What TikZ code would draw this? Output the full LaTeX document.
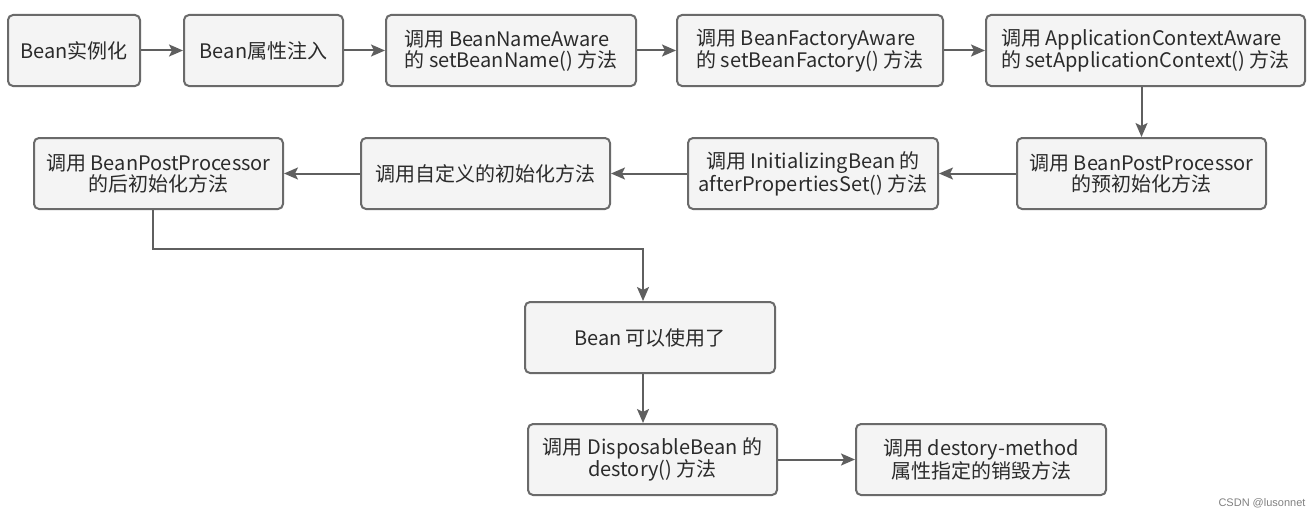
\documentclass[tikz,border=0pt]{standalone}
\usepackage{fontspec}
\setmainfont{Noto Sans CJK SC}
\newfontfamily\markfont{Liberation Sans}
\usetikzlibrary{arrows.meta}
\definecolor{boxline}{HTML}{6A6A6A}
\definecolor{boxfill}{HTML}{F4F4F4}
\definecolor{flowgray}{HTML}{5F5F5F}
\definecolor{textgray}{HTML}{2B2B2B}
\tikzset{
  stepbox/.style={draw=boxline,fill=boxfill,line width=2pt,rounded corners=5pt,
    minimum height=71pt,inner sep=0pt,align=center,text=textgray,
    font=\fontsize{20}{21}\selectfont},
  leftbox/.style={stepbox,align=left},
  flow/.style={draw=flowgray,line width=2pt,-{Stealth[length=14pt,width=12pt,inset=3pt]}},
}
\begin{document}
\begin{tikzpicture}[x=1pt,y=-1pt]
\useasboundingbox (0,0) rectangle (1313,519);
% 第一行
\node[stepbox,minimum width=132pt] (inst) at (74,50.5) {Bean实例化};
\node[stepbox,minimum width=159pt] (prop) at (263.5,50.5) {Bean属性注入};
\node[leftbox,minimum width=250pt] (name) at (511,50.5) {调用 BeanNameAware\\的 setBeanName() 方法};
\node[leftbox,minimum width=266pt] (factory) at (810,50.5) {调用 BeanFactoryAware\\的 setBeanFactory() 方法};
\node[leftbox,minimum width=319pt] (context) at (1145.5,50.5) {调用 ApplicationContextAware\\的 setApplicationContext() 方法};
% 第二行
\node[stepbox,minimum width=249pt] (before) at (1141.5,173.5) {调用 BeanPostProcessor\\的预初始化方法};
\node[stepbox,minimum width=250pt] (props) at (813,173.5) {调用 InitializingBean 的\\afterPropertiesSet() 方法};
\node[stepbox,minimum width=249pt] (custom) at (485.5,173.5) {调用自定义的初始化方法};
\node[stepbox,minimum width=249pt] (after) at (158.5,173.5) {调用 BeanPostProcessor\\的后初始化方法};
% 使用与销毁
\node[stepbox,minimum width=250pt] (ready) at (650,337.5) {Bean 可以使用了};
\node[stepbox,minimum width=249pt] (dispose) at (652.5,459.5) {调用 DisposableBean 的\\destory() 方法};
\node[stepbox,minimum width=250pt] (destroy) at (981,459.5) {调用 destory-method\\属性指定的销毁方法};
% 箭头
\draw[flow] (inst) -- (prop);
\draw[flow] (prop) -- (name);
\draw[flow] (name) -- (factory);
\draw[flow] (factory) -- (context);
\draw[flow] (context.south -| before.north) -- (before.north);
\draw[flow] (before) -- (props);
\draw[flow] (props) -- (custom);
\draw[flow] (custom) -- (after);
\draw[flow] ([xshift=-6pt]after.south) -- ++(0,39) -| ([xshift=-7pt]ready.north);
\draw[flow] ([xshift=-7pt]ready.south) -- ([xshift=-7pt]ready.south |- dispose.north);
\draw[flow] (dispose) -- (destroy);
\node[text=gray,font=\markfont\fontsize{11}{13}\selectfont] (mark) at (1262,503) {CSDN @lusonnet};
\end{tikzpicture}
\end{document}
